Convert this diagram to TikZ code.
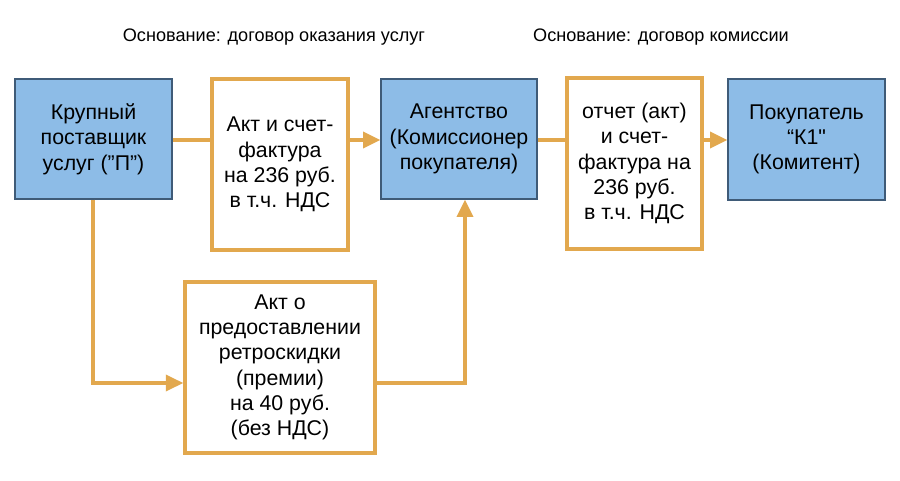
\documentclass[tikz,border=0pt]{standalone}
\usepackage{fontspec}
\setmainfont{Liberation Sans}
\usetikzlibrary{arrows.meta}
\definecolor{orng}{HTML}{E2A84E}
\definecolor{bfill}{HTML}{8DBCE7}
\definecolor{bline}{HTML}{3F5B78}

\begin{document}
\begin{tikzpicture}[
  x=0.75pt, y=-0.75pt,
  font=\fontsize{16}{19}\selectfont,
  >={Triangle[length=13pt, width=12pt]},
  party/.style={draw=bline, line width=1pt, fill=bfill, align=center, inner sep=0pt},
  doc/.style={draw=orng, line width=2.6pt, fill=white, align=center, inner sep=0pt},
  basis/.style={font=\fontsize{13.6}{16}\selectfont},
  flow/.style={draw=orng, line width=2.6pt}]

\useasboundingbox (0,0) rectangle (900,481);

% ===== top captions =====
\node[basis] (bs1) at (274,37) {Основание: договор оказания услуг};
\node[basis] (bs2) at (661,37) {Основание: договор комиссии};

% ===== parties =====
\node[party, minimum width=157*0.75pt, minimum height=120*0.75pt] (pp) at (93.5,139)
  {Крупный\\поставщик\\услуг (”П”)};
\node[party, minimum width=156*0.75pt, minimum height=120*0.75pt] (ag) at (459,139)
  {Агентство\\(Комиссионер\\покупателя)};
\node[party, minimum width=157*0.75pt, minimum height=121*0.75pt] (k1) at (806.5,139.5)
  {Покупатель\\“К1{\addfontfeatures{Ligatures=TeXOff}"}\\(Комитент)};

% ===== documents =====
\node[doc, minimum width=136*0.75pt, minimum height=171*0.75pt] (act) at (280,164.5)
  {Акт и счет-\\фактура\\на 236 руб.\\в т.ч. НДС};
\node[doc, minimum width=135*0.75pt, minimum height=171*0.75pt] (rep) at (634.5,163.5)
  {отчет (акт)\\и счет-\\фактура на\\236 руб.\\в т.ч. НДС};
\node[doc, minimum width=190*0.75pt, minimum height=171*0.75pt] (bon) at (280,367.5)
  {Акт о\\предоставлении\\ретроскидки\\(премии)\\на 40 руб.\\(без НДС)};

\coordinate (lv) at (0,140);
\coordinate (cd) at (93,383);
\coordinate (cu) at (465,383);

% ===== edges =====
\draw[flow] (pp.east |- lv) -- (act.west |- lv);
\draw[flow,->] (act.east |- lv) -- (ag.west |- lv);
\draw[flow] (ag.east |- lv) -- (rep.west |- lv);
\draw[flow,->] (rep.east |- lv) -- (k1.west |- lv);
\draw[flow,->] (pp.south -| cd) -- (cd) -- (bon.west |- cd);
\draw[flow,->] (bon.east |- cu) -- (cu) -- (ag.south -| cu);

\end{tikzpicture}
\end{document}
